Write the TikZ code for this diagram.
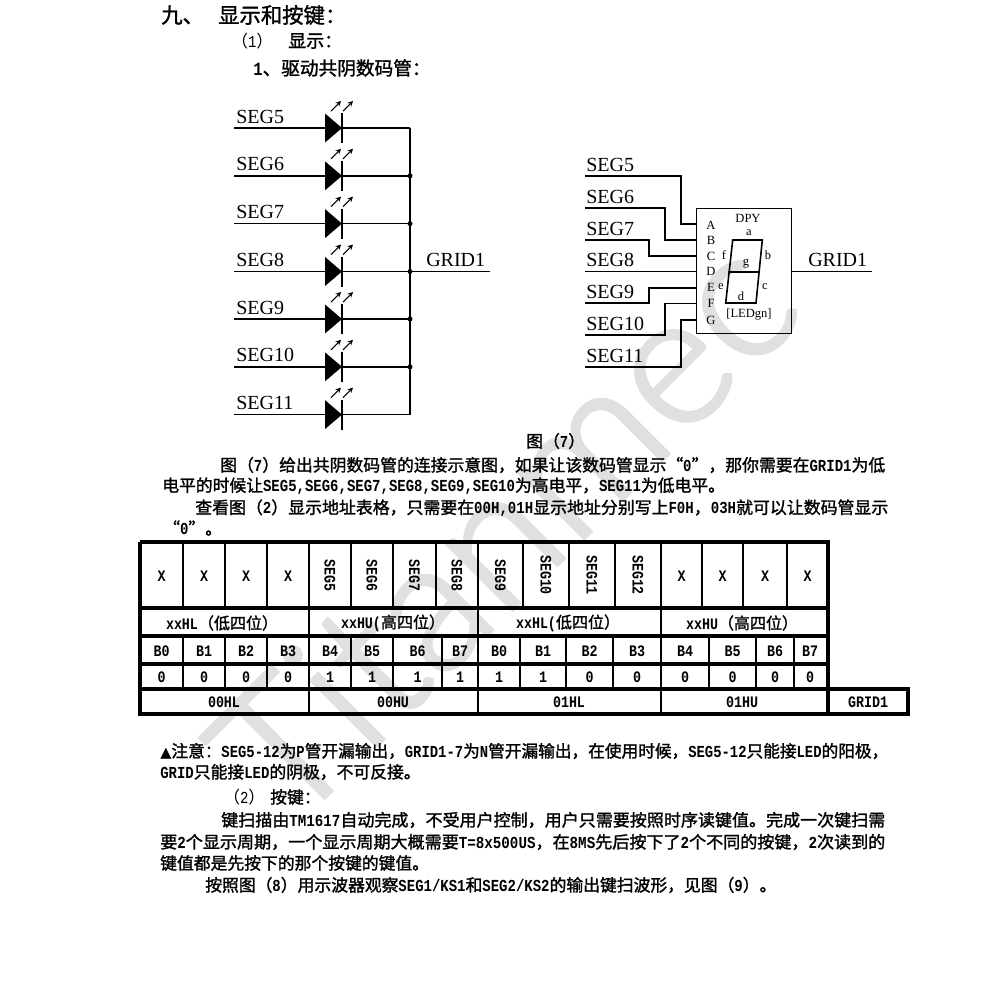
\documentclass[tikz,border=0pt]{standalone}
\usepackage{fontspec}
\usepackage{graphicx}
\usetikzlibrary{arrows.meta}
\setmainfont{Liberation Serif}
\newfontfamily\cjkb[FakeBold=1.5]{Noto Sans CJK SC}
\newfontfamily\cjkr{Noto Sans CJK SC}
\newfontfamily\latb[FakeStretch=0.833]{Liberation Mono}
\newfontfamily\wmfont[FakeBold=2.2]{Lato Light}
\newcommand\la[1]{{\latb\bfseries #1}}
\newcommand\lar[1]{{\latb #1}}
\newcommand\ta[1]{{\latb\bfseries #1}}
\newcommand\bodyf{\fontsize{12.6}{14}\cjkb}
\newcommand\tabf{\fontsize{12}{14}\cjkb}
\newcommand\fitw[2]{\resizebox{\dimexpr#1pt*3/4\relax}{\height}{#2}}
\definecolor{wmark}{HTML}{E0E0E0}
\tikzset{
 wire/.style={line width=1.1pt,line cap=square},
 lbl/.style={anchor=base west,inner sep=0pt,font=\fontsize{15}{16}\selectfont},
 pin/.style={inner sep=0pt,font=\fontsize{9.4}{10}\selectfont},
 seg/.style={line width=1.2pt,line cap=round},
 txt/.style={anchor=west,inner sep=0pt,font=\bodyf\selectfont},
 tc/.style={inner sep=0pt,font=\tabf\selectfont},
 tv/.style={inner sep=0pt,rotate=-90,font=\fontsize{12}{14}\latb\bfseries},
 thick rule/.style={line width=2.5pt,line cap=square},
 thin rule/.style={line width=1.1pt},
 mid rule/.style={line width=2pt},
 led arrow/.style={line width=.8pt,-{Stealth[length=4pt,width=4pt]}},
}
\begin{document}
\begin{tikzpicture}[x=.75pt,y=-.75pt]
\useasboundingbox (0,0) rectangle (991,993);
\fill[white] (0,0) rectangle (991,993);
% watermark
\node[anchor=base west,inner sep=0pt,rotate=45,text=wmark,font=\fontsize{138}{150}\wmfont\selectfont] (wm) at (290,832) {Titanmec};
% headings
\node[txt,font=\fontsize{16}{18}\cjkb\selectfont] (h1) at (161,15) {九、};
\node[txt,font=\fontsize{16}{18}\cjkb\selectfont] (h2) at (218,15) {显示和按键：};
\node[txt,font=\fontsize{12.6}{14}\cjkr\selectfont] (h3) at (231,41) {（\lar{1}）};
\node[txt,font=\fontsize{13.5}{14}\cjkb\selectfont] (h4) at (288,41) {显示：};
\node[txt,font=\fontsize{14}{14}\cjkb\selectfont] (h5) at (253,68) {\la{1}、驱动共阴数码管：};
% left schematic
\coordinate (bustop) at (410,128);
\coordinate (busbot) at (410,414.6);
\draw[wire] (bustop) -- (busbot);
\foreach \n/\y/\t in {a/128/SEG5,b/175.8/SEG6,c/223.6/SEG7,d/271.5/SEG8,e/319/SEG9,f/366.8/SEG10,g/414.6/SEG11}{
 \node[lbl] (lab\n) at (236,\y-5) {\t};
 \coordinate (in\n) at (234,\y);
 \coordinate (an\n) at (325,\y);
 \coordinate (ca\n) at (342,\y);
 \coordinate (bus\n) at (410,\y);
 \draw[wire] (in\n) -- (an\n);
 \draw[wire] (ca\n) -- (bus\n);
 \fill (325,\y-14.5) -- (342,\y) -- (325,\y+14.5) -- cycle;
 \draw[line width=2.1pt] (342,\y-15) -- (342,\y+15);
 \draw[led arrow] (331,\y-17) -- (341,\y-27);
 \draw[led arrow] (343,\y-17) -- (353,\y-27);
}
\foreach \n in {b,c,d,e,f}{\fill (bus\n) circle (2.5);}
\coordinate (gridout) at (490,271.5);
\draw[wire] (busd) -- (gridout);
\node[lbl] (lgrid) at (426,266.5) {GRID1};
% right schematic
\node[draw,line width=.85pt,inner sep=0pt,anchor=north west] (dpy) at (696,208) {\tikz[x=.75pt,y=.75pt]\path (0,0) rectangle (94.7,125);};
\foreach \n/\y/\lx/\ly/\t/\pinY/\xm in {
 a/176/586/171/SEG5/224/681,
 b/208/586/203/SEG6/240/665,
 c/240/586/235/SEG7/256/649,
 e/303/586/298/SEG9/288/649,
 f/335/586/330/SEG10/303.5/665,
 g/367/586/362/SEG11/320/681}{
 \node[lbl] (rl\n) at (\lx,\ly) {\t};
 \coordinate (rin\n) at (585,\y);
 \coordinate (rp\n) at (696,\pinY);
 \draw[wire] (rin\n) -| (\xm,\pinY) -- (rp\n);
}
\node[lbl] (rld) at (586,266.5) {SEG8};
\coordinate (rind) at (585,271.7);
\coordinate (rpd) at (696,271.7);
\draw[wire] (rind) -- (rpd);
\coordinate (rgo) at (872,271.7);
\coordinate (rgi) at (790.7,271.7);
\draw[wire] (rgi) -- (rgo);
\node[lbl] (rlg) at (808,266.5) {GRID1};
\foreach \t/\y in {A/225,B/240,C/256,D/271.5,E/287,F/303.5,G/320}{
 \node[pin] (p\t) at (711,\y) {\t};
}
\node[pin] (ndpy) at (748,218) {DPY};
\node[pin] (sa) at (749,233) {a};
\node[pin] (sf) at (724,255) {f};
\node[pin] (sb) at (768,255) {b};
\node[pin] (sg) at (746,264) {g};
\node[pin] (se) at (721,287) {e};
\node[pin] (sc) at (765,287) {c};
\node[pin] (sd) at (741,296) {d};
\node[pin] (sn) at (749,314) {[LEDgn]};
\draw[seg] (732.7,240) -- (762.3,240) -- (756,303) -- (725.7,303) -- cycle;
\draw[seg] (728.7,271.7) -- (759.2,271.7);
% text
\node[inner sep=0pt,anchor=west,font=\bodyf\selectfont] (cap) at (526,441) {图（\la{7}）};
\node[txt] (t1) at (220,465) {\fitw{665}{图（\la{7}）给出共阴数码管的连接示意图，如果让该数码管显示“\la{0}”，那你需要在\la{GRID1}为低}};
\node[txt] (t2) at (162,486) {电平的时候让\la{SEG5,SEG6,SEG7,SEG8,SEG9,SEG10}为高电平，\la{SEG11}为低电平。};
\node[txt] (t3) at (195,508) {\fitw{693}{查看图（\la{2}）显示地址表格，只需要在\la{00H,01H}显示地址分别写上\la{F0H}，\la{03H}就可以让数码管显示}};
\node[txt] (t4) at (163,528) {“\la{0}”。};
\node[txt] (n1) at (160,751) {\fitw{728}{{\fontspec{DejaVu Sans}\fontsize{11}{14}\selectfont ▲}注意：\la{SEG5-12}为\la{P}管开漏输出，\la{GRID1-7}为\la{N}管开漏输出，在使用时候，\la{SEG5-12}只能接\la{LED}的阳极，}};
\node[txt] (n2) at (160,772) {\la{GRID}只能接\la{LED}的阴极，不可反接。};
\node[txt,font=\bodyf\selectfont] (n3) at (223,797) {{\cjkr（\lar{2}）}\hspace{3.75pt}按键：};
\node[txt] (n4) at (221,820) {\fitw{664}{键扫描由\la{TM1617}自动完成，不受用户控制，用户只需要按照时序读键值。完成一次键扫需}};
\node[txt] (n5) at (160,842) {\fitw{725}{要\la{2}个显示周期，一个显示周期大概需要\la{T=8x500US}，在\la{8MS}先后按下了\la{2}个不同的按键，\la{2}次读到的}};
\node[txt] (n6) at (160,863) {键值都是先按下的那个按键的键值。};
\node[txt] (n7) at (205,885) {按照图（\la{8}）用示波器观察\la{SEG1/KS1}和\la{SEG2/KS2}的输出键扫波形，见图（\la{9}）。};
% table rules
\foreach \x in {183,225,267,351,393,436,523,569,615,702,743,787}{\draw[thin rule] (\x,542) -- (\x,608);}
\foreach \x in {309,478,661}{\draw[thin rule] (\x,542) -- (\x,689);}
\foreach \x in {183,225,267,351,393,442,520,566,613,709,756,794}{\draw[thin rule] (\x,636) -- (\x,689);}
\foreach \x in {309,661}{\draw[thin rule] (\x,689) -- (\x,714);}
\draw[mid rule] (478,636) -- (478,714);
\draw[thick rule] (140,542) -- (828,542) -- (828,689) (140,542) -- (140,714) -- (908,714) -- (908,689) -- (140,689);
\draw[thick rule] (828,689) -- (828,714);
\foreach \y in {608,636,664}{\draw[thick rule] (140,\y) -- (828,\y);}
% table row 1
\foreach \n/\x/\t in {a/161.5/X,b/204/X,c/246/X,d/288/X,e/681.5/X,f/722.5/X,g/765/X,h/807.5/X}{
 \node[tc] (rx\n) at (\x,576) {\ta{\t}};}
\foreach \n/\x/\t/\y in {e/330/SEG5/575,f/372/SEG6/575,g/414.5/SEG7/575,h/457/SEG8/575,i/500.5/SEG9/575,j/546/SEG10/575,k/592/SEG11/575,l/638/SEG12/575}{
 \node[tv] (rv\n) at (\x,\y) {\t};}
% table row 2
\node[tc] (g1) at (222,623) {\ta{xxHL}（低四位）};
\node[tc] (g2) at (393,623) {\ta{xxHU(}高四位）};
\node[tc] (g3) at (568,623) {\ta{xxHL(}低四位）};
\node[tc] (g4) at (742,623) {\ta{xxHU}（高四位）};
% table rows 3 and 4
\foreach \n/\x/\b/\v in {a/161.5/B0/0,b/204/B1/0,c/246/B2/0,d/288/B3/0,e/330/B4/1,f/372/B5/1,g/417.5/B6/1,h/460/B7/1,i/499/B0/1,j/543/B1/1,k/589.5/B2/0,l/637/B3/0,m/685/B4/0,n/732.5/B5/0,o/775/B6/0,p/810/B7/0}{
 \node[tc] (rb\n) at (\x,651) {\ta{\b}};
 \node[tc] (rd\n) at (\x,677) {\ta{\v}};}
% table row 5
\node[tc] (e1) at (224,702) {\ta{00HL}};
\node[tc] (e2) at (393,702) {\ta{00HU}};
\node[tc] (e3) at (569,702) {\ta{01HL}};
\node[tc] (e4) at (742,702) {\ta{01HU}};
\node[tc] (e5) at (868,702) {\ta{GRID1}};
\end{tikzpicture}
\end{document}
